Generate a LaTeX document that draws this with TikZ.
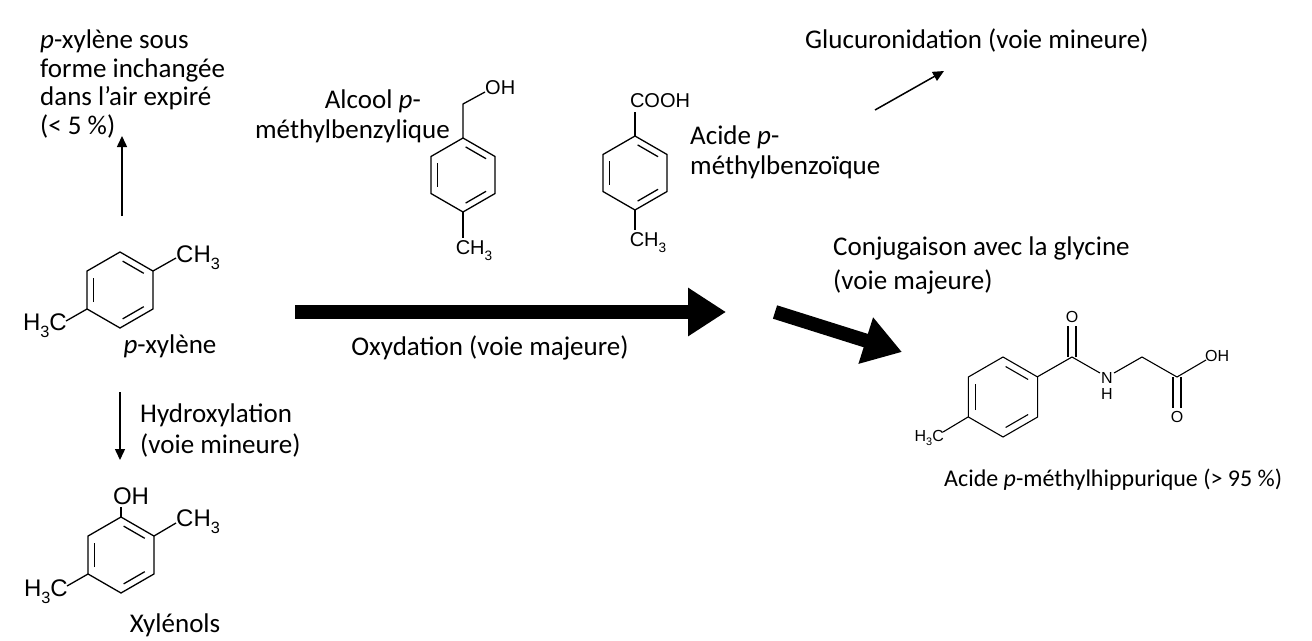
\documentclass[tikz,border=0pt]{standalone}
\usepackage{fontspec}
\setmainfont{Carlito}
\newfontfamily\chem{Liberation Sans}
\usetikzlibrary{arrows.meta}
\newcommand\benzring[3]{%
\begin{scope}[shift={(#1,#2)}]
\draw[bond] (90:#3)--(30:#3)--(-30:#3)--(-90:#3)--(-150:#3)--(150:#3)--cycle;
\draw[bond,shorten <=3pt,shorten >=3pt] (150:0.8*#3)--(210:0.8*#3);
\draw[bond,shorten <=3pt,shorten >=3pt] (270:0.8*#3)--(330:0.8*#3);
\draw[bond,shorten <=3pt,shorten >=3pt] (30:0.8*#3)--(90:0.8*#3);
\end{scope}}
\newcommand\sub[1]{\raisebox{-0.3em}{\fontsize{0.68em}{1em}\selectfont #1}}
\tikzset{
  bond/.style={line width=1.3pt},
  lab/.style={font=\fontsize{27}{32}\selectfont, inner sep=0pt},
  ch/.style={font=\chem\fontsize{24}{26}\selectfont, inner sep=1pt},
  chs/.style={font=\chem\fontsize{20}{22}\selectfont, inner sep=1pt},
  cht/.style={font=\chem\fontsize{16}{18}\selectfont, inner sep=1pt},
  thin arrow/.style={line width=1.5pt,-{Triangle[length=11pt,width=10pt]}},
  big arrow/.style={line width=14pt,-{Triangle[length=38pt,width=46pt]}},
}
\begin{document}
\begin{tikzpicture}[x=1pt,y=-1pt]
\useasboundingbox[fill=white] (0,0) rectangle (1312,640);
% p-xylene
\benzring{120}{290}{38}
\draw[bond] (153,271)--(176,258); \node[ch,anchor=west] (ch3a) at (175,258) {CH\sub{3}};
\draw[bond] (87,309)--(66,321); \node[ch,anchor=east] (h3ca) at (68,326) {H\sub{3}C};
\node[lab] (pxyl) at (170,346) {\textit{p}-xylène};
% air text
\node[lab,anchor=north west,align=left,font=\fontsize{27}{28.5}\selectfont] (air) at (40,30) {\textit{p}-xylène sous\\forme inchangée\\dans l’air expiré\\(< 5 \%)};
\coordinate (u1) at (122,216); \coordinate (u2) at (122,136);
\draw[thin arrow] (u1)--(u2);
% hydroxylation
\coordinate (d1) at (120,392); \coordinate (d2) at (120,460);
\draw[thin arrow] (d1)--(d2);
\node[lab,anchor=west,align=left,font=\fontsize{27}{31}\selectfont] (hyd) at (140,430) {Hydroxylation\\(voie mineure)};
% xylenols
\benzring{121}{555}{38}
\draw[bond] (121,517)--(121,507); \node[ch] (oh1) at (131,496) {OH};
\draw[bond] (154,536)--(176,523); \node[ch,anchor=west] (ch3b) at (175,522) {CH\sub{3}};
\draw[bond] (88,574)--(67,586); \node[ch,anchor=east] (h3cb) at (69,592) {H\sub{3}C};
\node[lab] (xyl) at (175,625) {Xylénols};
% alcohol
\benzring{463}{175}{37}
\draw[bond] (463,138)--(463,104)--(485,92); \node[chs,anchor=west] (oh2) at (484,88) {OH};
\draw[bond] (463,212)--(463,238); \node[chs] (ch3c) at (474,251) {CH\sub{3}};
\node[lab,anchor=east] (alc1) at (421,101) {Alcool \textit{p}-};
\node[lab,anchor=east] (alc2) at (450,131) {méthylbenzylique};
% acid
\benzring{635}{173}{37}
\draw[bond] (635,136)--(635,112); \node[chs] (cooh) at (660,101) {COOH};
\draw[bond] (635,210)--(635,230); \node[chs] (ch3d) at (648,243) {CH\sub{3}};
\node[lab,anchor=west] (ac1) at (690,137) {Acide \textit{p}-};
\node[lab,anchor=west] (ac2) at (690,167) {méthylbenzoïque};
% big arrows
\coordinate (o1) at (295,312); \coordinate (o2) at (726,312);
\draw[big arrow] (o1)--(o2);
\node[lab] (oxy) at (490,348) {Oxydation (voie majeure)};
\coordinate (c1) at (775,312); \coordinate (c2) at (902,352);
\draw[big arrow] (c1)--(c2);
\coordinate (g1) at (875,110); \coordinate (g2) at (944,71);
\draw[thin arrow] (g1)--(g2);
\node[lab,anchor=west] (glu) at (805,40) {Glucuronidation (voie mineure)};
\node[lab,anchor=west,align=left,font=\fontsize{27}{34}\selectfont] (conj) at (833,265) {Conjugaison avec la glycine\\(voie majeure)};
% hippuric acid
\begin{scope}[bond/.style={line width=1.1pt}]
\benzring{1003}{397}{40}
\draw[bond] (968,417)--(943,432); \node[cht,anchor=east] (h3cc) at (945,438) {H\sub{3}C};
\draw[bond] (1037,377)--(1072,357)--(1100,373);
\draw[bond] (1068,357)--(1068,326); \draw[bond] (1076,357)--(1076,326);
\node[cht] (o3) at (1072,317) {O};
\node[cht] (nh) at (1107,378) {N}; \node[cht] (hh) at (1107,394) {H};
\draw[bond] (1114,373)--(1142,357)--(1177,377)--(1206,360);
\node[cht,anchor=west] (oh3) at (1204,356) {OH};
\draw[bond] (1173,377)--(1173,408); \draw[bond] (1181,377)--(1181,408);
\node[cht] (o4) at (1177,417) {O};
\end{scope}
\node[lab,anchor=west,font=\fontsize{24}{28}\selectfont] (hip) at (944,480) {Acide \textit{p}-méthylhippurique (> 95 \%)};
\end{tikzpicture}
\end{document}
